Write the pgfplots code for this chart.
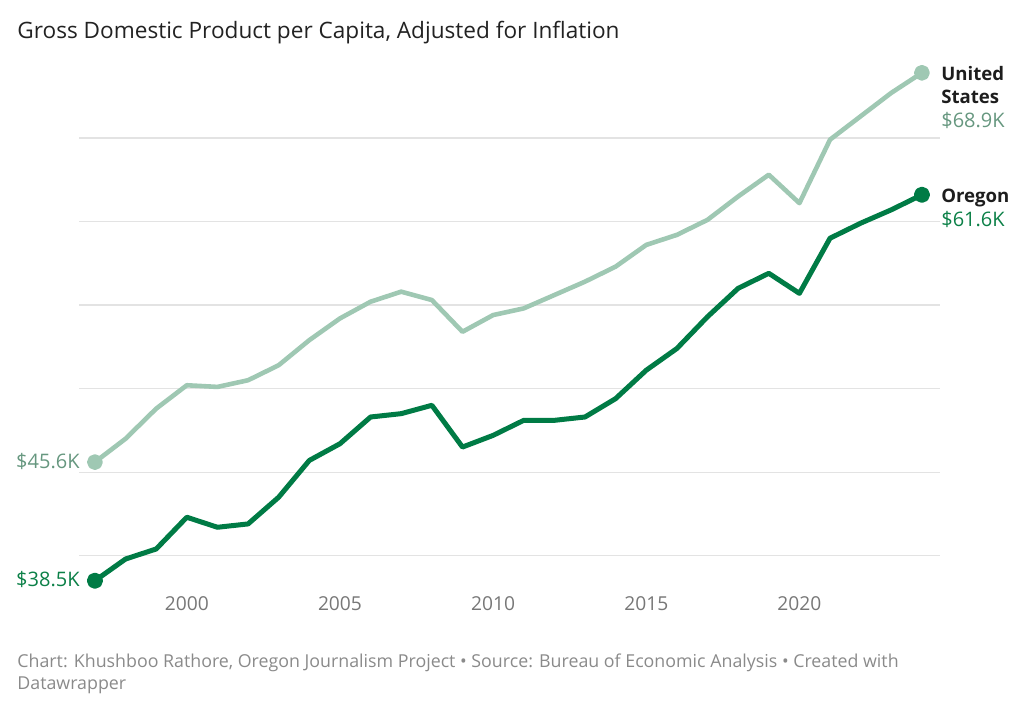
\documentclass[border=0pt]{standalone}
\usepackage{fontspec}
\setmainfont{Open Sans}
\usepackage{pgfplots}
\pgfplotsset{compat=1.18}
\definecolor{usc}{HTML}{9FC8B3}
\definecolor{orc}{HTML}{007B45}
\definecolor{uslab}{HTML}{66977F}
\definecolor{orlab}{HTML}{0B8047}
\definecolor{gridc}{HTML}{E3E3E3}
\definecolor{tickc}{HTML}{777777}
\definecolor{footc}{HTML}{8A8A8A}
\definecolor{titc}{HTML}{222222}
\definecolor{namec}{HTML}{1D1D1D}

\pgfplotstableread{
year us or
1997 45.6 38.5
1998 47.0 39.8
1999 48.8 40.4
2000 50.2 42.3
2001 50.1 41.7
2002 50.5 41.9
2003 51.4 43.5
2004 52.9 45.7
2005 54.2 46.7
2006 55.2 48.3
2007 55.8 48.5
2008 55.3 49.0
2009 53.4 46.5
2010 54.4 47.2
2011 54.8 48.1
2012 55.6 48.1
2013 56.4 48.3
2014 57.3 49.4
2015 58.6 51.1
2016 59.2 52.4
2017 60.1 54.3
2018 61.5 56.0
2019 62.8 56.9
2020 61.1 55.7
2021 64.9 59.0
2022 66.3 59.9
2023 67.7 60.7
2024 68.9 61.6
}\gdpdata

\begin{document}
\begin{tikzpicture}
\path[use as bounding box] (0,0) rectangle (512pt,355pt);
\node[anchor=base west, inner sep=0pt, text=titc, font=\fontsize{11.3}{13}\selectfont] at (8.5pt,335.85pt) {Gross Domestic Product per Capita, Adjusted for Inflation};
\node[anchor=base west, inner sep=0pt, text=footc, font=\fontsize{8.9}{10}\selectfont] at (8.5pt,21.15pt) {Chart: Khushboo Rathore, Oregon Journalism Project • Source: Bureau of Economic Analysis • Created with};
\node[anchor=base west, inner sep=0pt, text=footc, font=\fontsize{8.9}{10}\selectfont] at (8.5pt,10pt) {Datawrapper};
\begin{axis}[
  at={(39.5pt,60.45pt)}, anchor=south west,
  scale only axis, width=430.5pt, height=263.15pt,
  xmin=1996.48, xmax=2024.59, ymin=38, ymax=69.5,
  axis lines=left, axis line style={draw=none},
  tick style={draw=none},
  clip=false,
  ytick={40,45,50,55,60,65}, yticklabels={},
  ymajorgrids, grid style={gridc, line width=0.6pt},
  xtick={2000,2005,2010,2015,2020},
  xticklabels={2000,2005,2010,2015,2020},
  major tick length=0pt,
  xticklabel style={anchor=base, yshift=-10.95pt, text=tickc, font=\fontsize{9.6}{11}\selectfont, inner sep=0pt},
]
\addplot[usc, line width=2.3pt, line join=round, line cap=round,
  mark=*, mark indices={1,28}, mark size=2.8pt, mark options={draw=none, fill=usc}]
  table[x=year, y=us] {\gdpdata};
\addplot[orc, line width=2.5pt, line join=round, line cap=round,
  mark=*, mark indices={1,28}, mark size=2.8pt, mark options={draw=none, fill=orc}]
  table[x=year, y=or] {\gdpdata};
\node[anchor=base east, inner sep=0pt, text=uslab, font=\fontsize{10}{12}\selectfont] at (axis cs:1997,45.6) [xshift=-7.5pt, yshift=-3.3pt] {\$45.6K};
\node[anchor=base east, inner sep=0pt, text=orlab, font=\fontsize{10}{12}\selectfont] at (axis cs:1997,38.5) [xshift=-7.5pt, yshift=-2.8pt] {\$38.5K};
\node[anchor=base west, inner sep=0pt, text=namec, font=\bfseries\fontsize{9.3}{11}\selectfont] at (axis cs:2024,68.9) [xshift=9.5pt, yshift=-4pt] {United};
\node[anchor=base west, inner sep=0pt, text=namec, font=\bfseries\fontsize{9.3}{11}\selectfont] at (axis cs:2024,68.9) [xshift=9.5pt, yshift=-15.3pt] {States};
\node[anchor=base west, inner sep=0pt, text=uslab, font=\fontsize{10}{12}\selectfont] at (axis cs:2024,68.9) [xshift=9.5pt, yshift=-27.15pt] {\$68.9K};
\node[anchor=base west, inner sep=0pt, text=namec, font=\bfseries\fontsize{9.3}{11}\selectfont] at (axis cs:2024,61.6) [xshift=9.5pt, yshift=-3.85pt] {Oregon};
\node[anchor=base west, inner sep=0pt, text=orlab, font=\fontsize{10}{12}\selectfont] at (axis cs:2024,61.6) [xshift=9.5pt, yshift=-16pt] {\$61.6K};
\end{axis}
\end{tikzpicture}
\end{document}
